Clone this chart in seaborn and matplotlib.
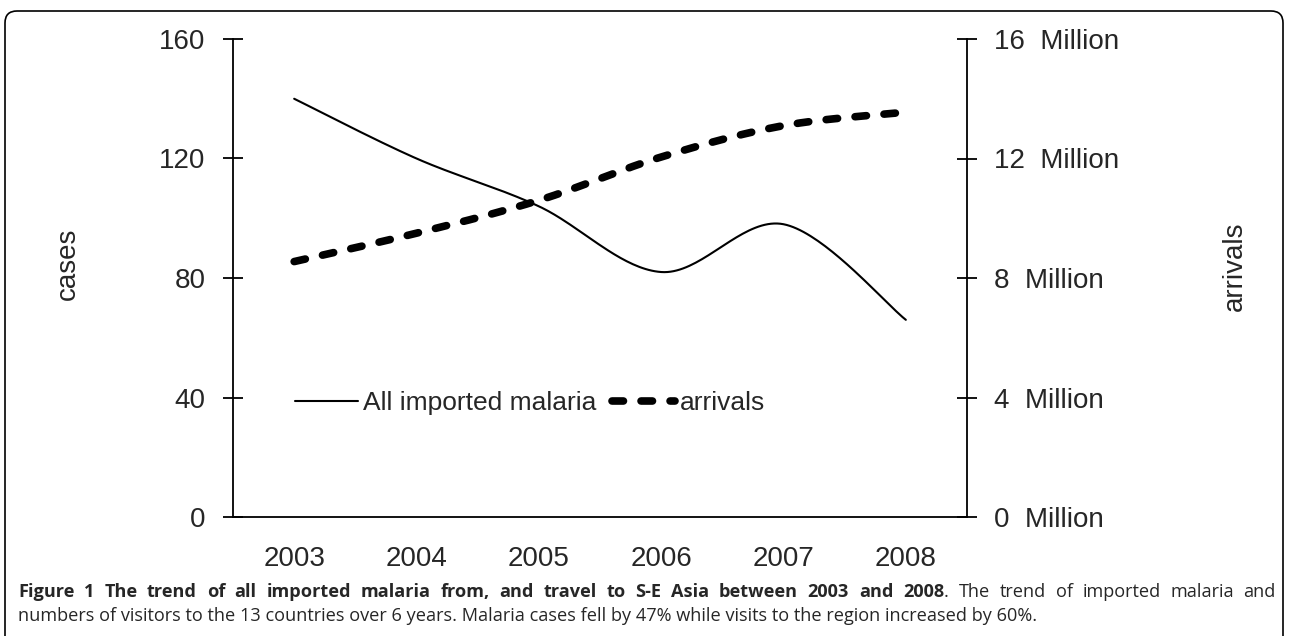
import numpy as np
import pandas as pd
import matplotlib
matplotlib.use("Agg")
import matplotlib.pyplot as plt
import seaborn as sns
from matplotlib.patches import FancyBboxPatch
from matplotlib.transforms import IdentityTransform

# values
years = ["2003", "2004", "2005", "2006", "2007", "2008"]
cases = [140, 120, 104, 82, 98, 66]
arrivals_million = [8.55, 9.5, 10.6, 12.05, 13.1, 13.55]
case_ticks = [0, 40, 80, 120, 160]
arrival_ticks = [0, 4, 8, 12, 16]

caption_bold = "Figure 1 The trend of all imported malaria from, and travel to S-E Asia between 2003 and 2008"
caption_rest1 = "The trend of imported malaria and"
caption_line2 = ("numbers of visitors to the 13 countries over 6 years. Malaria cases fell by 47% "
                 "while visits to the region increased by 60%.")


def smooth_curve(xs, ys, n=40):
    # Excel-style smoothed line: cubic Bezier between points,
    # control points taken from neighbouring points (Catmull-Rom)
    p = np.column_stack([xs, ys]).astype(float)
    out = []
    for i in range(len(p) - 1):
        p0 = p[i - 1] if i > 0 else p[i]
        p1, p2 = p[i], p[i + 1]
        p3 = p[i + 2] if i + 2 < len(p) else p[i + 1]
        c1 = p1 + (p2 - p0) / 6
        c2 = p2 - (p3 - p1) / 6
        t = np.linspace(0, 1, n)[:, None]
        seg = ((1 - t) ** 3) * p1 + 3 * ((1 - t) ** 2) * t * c1 + 3 * (1 - t) * t ** 2 * c2 + t ** 3 * p2
        out.append(seg if i == 0 else seg[1:])
    out = np.vstack(out)
    return out[:, 0], out[:, 1]


sns.set_style("white")
plt.rcParams["font.family"] = ["Liberation Sans", "DejaVu Sans"]
FS = 20

W, H = 1290, 636
fig = plt.figure(figsize=(W / 100, H / 100), dpi=100)
left, right, top, bottom = 233, 967, 39, 517
ax = fig.add_axes([left / W, 1 - bottom / H, (right - left) / W, (bottom - top) / H])
ax2 = ax.twinx()

pos = np.arange(len(years)) + 0.5
sx, sy = smooth_curve(pos, cases)
sns.lineplot(data=pd.DataFrame({"x": sx, "y": sy}), x="x", y="y", ax=ax, sort=False,
             color="black", linewidth=1.5, legend=False)

tx, ty = smooth_curve(pos, arrivals_million)
sns.lineplot(data=pd.DataFrame({"x": tx, "y": ty}), x="x", y="y", ax=ax2, sort=False,
             color="black", linewidth=5.5, linestyle=(0, (1.5, 2.3)), legend=False)
for ln in ax2.get_lines():
    ln.set_dash_capstyle("round")

ax.set_xlim(0, 6)
ax.set_ylim(0, 160)
ax2.set_ylim(0, 16)

tick_len = 14.4
ax.set_xticks(range(7))
ax.set_xticklabels([])
ax.set_xticks(pos, minor=True)
ax.set_xticklabels(years, minor=True)
ax.tick_params(axis="x", which="major", direction="inout", length=tick_len, width=1.3, color="black")
ax.tick_params(axis="x", which="minor", length=0, pad=21, labelsize=FS)

ax.set_yticks(case_ticks)
ax.set_yticklabels([str(v) for v in case_ticks])
ax.tick_params(axis="y", direction="inout", length=tick_len, width=1.3, pad=12.5, labelsize=FS, color="black")
ax2.set_yticks(arrival_ticks)
ax2.set_yticklabels([f"{v}  Million" for v in arrival_ticks])
ax2.tick_params(axis="y", direction="inout", length=tick_len, width=1.3, pad=12, labelsize=FS, color="black")

for a in (ax, ax2):
    a.set_xlabel("")
    a.set_ylabel("")
    a.spines["top"].set_visible(False)
    for s in a.spines.values():
        s.set_linewidth(1.3)
        s.set_color("black")
ax.spines["right"].set_visible(False)
ax2.spines["left"].set_visible(False)
ax2.spines["bottom"].set_visible(False)

fig.text(68 / W, 1 - 264 / H, "cases", rotation=90, ha="center", va="center", fontsize=FS)
fig.text(1235 / W, 1 - 266 / H, "arrivals", rotation=90, ha="center", va="center", fontsize=FS)

handles = ax.get_lines() + ax2.get_lines()
ax.legend(handles, ["All imported malaria", "arrivals"], ncol=2, frameon=False,
          loc="center", bbox_to_anchor=(0.405, 0.2385), fontsize=19,
          handlelength=2.39, handletextpad=0.19, columnspacing=0.57)

# caption, first line justified between the frame margins
cap_font = ["Open Sans", "DejaVu Sans"]
CFS = 13.1
x_start, x_end = 18, 1276
tokens = [(w, True, True) for w in caption_bold.split()]
tokens.append((".", False, False))
tokens += [(w, False, True) for w in caption_rest1.split()]
tokens[0] = (tokens[0][0], True, False)

fig.canvas.draw()
renderer = fig.canvas.get_renderer()
arts = []
for word, is_bold, _ in tokens:
    t = fig.text(0, 1 - 597 / H, word, fontsize=CFS, family=cap_font, va="baseline", ha="left",
                 fontweight="bold" if is_bold else "normal")
    arts.append(t)
widths = [t.get_window_extent(renderer).width for t in arts]
n_gaps = sum(1 for tok in tokens if tok[2])
gap = (x_end - x_start - sum(widths)) / n_gaps
x = x_start
for t, wd, tok in zip(arts, widths, tokens):
    if tok[2]:
        x += gap
    t.set_x(x / W)
    x += wd

fig.text(x_start / W, 1 - 621 / H, caption_line2, fontsize=CFS, family=cap_font, va="baseline", ha="left")

# rounded frame around the figure panel
frame = FancyBboxPatch((5, -20), 1278, H - 11 + 20, boxstyle="round,pad=0,rounding_size=12",
                       transform=IdentityTransform(), fill=False, edgecolor="black", linewidth=1.2)
fig.patches.append(frame)

fig.savefig("out.png", dpi=100)
